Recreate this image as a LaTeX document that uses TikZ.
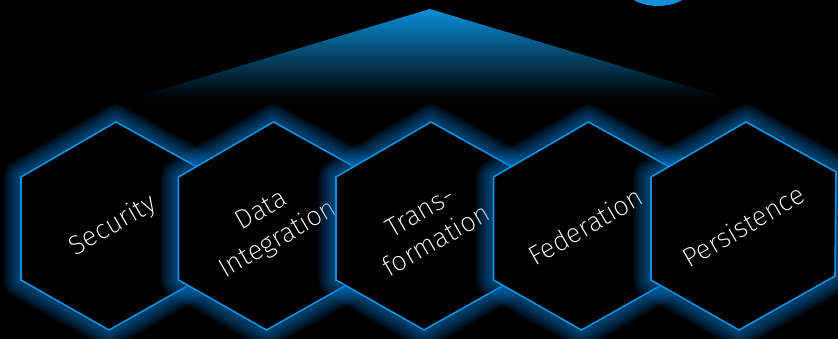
\documentclass[tikz,border=0pt]{standalone}
\usepackage{fontspec}
\newfontfamily\hexfont{Fira Sans ExtraLight}
\definecolor{edgeblue}{RGB}{16,144,220}
\definecolor{glowblue}{RGB}{0,125,210}
\definecolor{topblue}{RGB}{12,142,216}
\definecolor{midblue}{RGB}{6,72,112}
\newcommand\hexpath[1]{(#1,122) -- ++(90,50) -- ++(-1,104) -- ++(-96,54) -- ++(-88,-50) -- ++(0,-103) -- cycle}
\begin{document}
\begin{tikzpicture}[x=1pt,y=-1pt,
  hexlabel/.style={text=white, font=\hexfont\fontsize{27}{33}\selectfont, align=center, rotate=30, inner sep=0pt},
  hexedge/.style={edgeblue, line width=1.6pt, line join=miter},
  hexglow/.style={glowblue, line join=round}]
\fill[black] (0,0) rectangle (838,339);
\useasboundingbox (0,0) rectangle (838,339);
\clip (0,0) rectangle (838,339);
\shade[top color=topblue, middle color=midblue, bottom color=black] (430,9) -- (730,99) -- (130,99) -- cycle;
\fill[edgeblue] (658,-14) ellipse (34 and 20);
\foreach \tx/\nm/\txt in {116/sec/Security, 273.5/dat/{Data\\Integration}, 431/tra/{Trans-\\formation}, 588.5/fed/Federation, 746/per/Persistence} {
  \foreach \w in {36,33,...,3}
    \draw[hexglow, line width=\w pt, opacity=0.065] \hexpath{\tx};
  \fill[black] \hexpath{\tx};
  \draw[hexedge] \hexpath{\tx};
  \node[hexlabel] (\nm) at (\tx-3,226) {\txt};
}
\end{tikzpicture}
\end{document}
